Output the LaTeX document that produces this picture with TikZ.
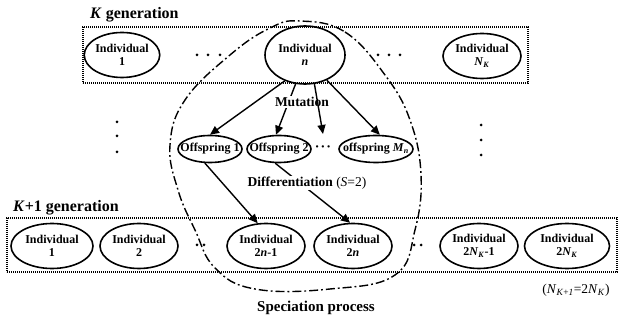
\documentclass[tikz,border=0pt]{standalone}
\usepackage{fontspec}
\setmainfont{Liberation Serif}
\usetikzlibrary{shapes.geometric,arrows.meta}
\begin{document}
\begin{tikzpicture}[x=1pt,y=-1pt,
  ind/.style={ellipse,draw,line width=1.6pt,inner sep=0pt,minimum width=78pt,minimum height=45pt,align=center,font=\fontsize{12}{13}\selectfont\bfseries},
  off/.style={ellipse,draw,line width=1.6pt,inner sep=0pt,minimum width=64pt,minimum height=27pt,font=\fontsize{12}{13}\selectfont\bfseries},
  genbox/.style={draw,line width=1.3pt,dash pattern=on 1.1pt off 0.9pt},
  arr/.style={line width=1.4pt,-{Triangle[length=9pt,width=8pt]}},
  lbl/.style={font=\fontsize{13.5}{15}\selectfont\bfseries,fill=white,inner sep=1pt},
  ttl/.style={font=\fontsize{16}{18}\selectfont\bfseries,anchor=west,inner sep=0pt},
  dot/.style={circle,fill,inner sep=0pt,minimum size=3pt},
  spec/.style={line width=1.4pt,dash pattern=on 9pt off 3pt on 1.8pt off 3pt}
]
\useasboundingbox (0,0) rectangle (619,320);

% generation boxes
\node[genbox,minimum width=445pt,minimum height=56pt,inner sep=0pt] (topbox) at (305.5,55) {};
\node[genbox,minimum width=610pt,minimum height=54pt,inner sep=0pt] (botbox) at (312,245) {};

% titles
\node[ttl] (tK) at (90,15) {\textit{K} generation};
\node[ttl] (tK1) at (13,208) {\textit{K}+1 generation};

% K generation
\node[ind,minimum width=66pt] (i1) at (122,55) {Individual\\1};
\node[ind,minimum width=80pt,minimum height=58pt] (in) at (305,55) {Individual\\\textit{n}};
\node[ind] (iNK) at (482,56) {Individual\\\textit{N}\textsubscript{\textit{K}}};

% offspring
\node[off] (o1) at (210,149) {\makebox[0pt]{Offspring 1}};
\node[off] (o2) at (279,149) {\makebox[0pt]{Offspring 2}};
\node[font=\fontsize{14}{15}\selectfont\bfseries,inner sep=0pt] (od) at (323,149) {·\kern1pt·\kern1pt·};
\coordinate (m3) at (323,134);
\node[off,minimum width=74pt] (oM) at (376,149) {\makebox[0pt]{offspring \textit{M}\textsubscript{\textit{n}}}};

% K+1 generation
\node[ind,minimum width=82pt] (b1) at (52,246) {Individual\\1};
\node[ind] (b2) at (139,246) {Individual\\2};
\node[ind] (b3) at (266,246) {Individual\\2\textit{n}-1};
\node[ind] (b4) at (353,246) {Individual\\2\textit{n}};
\node[ind] (b5) at (479,246) {Individual\\2\textit{N}\textsubscript{\textit{K}}-1};
\node[ind,minimum width=85pt] (b6) at (567,246) {Individual\\2\textit{N}\textsubscript{\textit{K}}};

% mutation arrows
\draw[arr] (in.232) -- (o1.north);
\draw[arr] (in.252) -- (o2.102);
\node[lbl] (mut) at (302,102) {Mutation};
\draw[arr] (in.288) -- (m3);
\draw[arr] (in.311) -- (oM.75);

% differentiation arrows
\draw[arr] (o1.250) -- (b3.110);
\draw[arr] (o2.255) -- (b4.97);
\node[lbl] (diff) at (307,183) {Differentiation \mdseries(\textit{S}=2)};

% dots
\foreach \x [count=\i] in {197,208,220} \node[dot] (dl\i) at (\x,55) {};
\foreach \x [count=\i] in {378,389,400} \node[dot] (dr\i) at (\x,55) {};
\foreach \y [count=\i] in {122,136,152} \node[dot] (vl\i) at (117,\y) {};
\foreach \y [count=\i] in {125,140,155} \node[dot] (vr\i) at (481,\y) {};
\foreach \x [count=\i] in {197,204} \node[dot] (bl\i) at (\x,245) {};
\foreach \x [count=\i] in {414,421} \node[dot] (br\i) at (\x,245) {};

% speciation boundary
\draw[spec] plot[smooth cycle,tension=0.7] coordinates {(300,21) (345,32) (385,75) (410,120) (421,175) (415,230) (395,275) (330,289) (255,289) (215,268) (195,230) (178,190) (170,145) (185,100) (230,55) (270,28)};

\node[font=\fontsize{15}{17}\selectfont\bfseries] (sp) at (316,308) {Speciation process};
\node[font=\fontsize{13.5}{15}\selectfont] (eq) at (576,290) {(\textit{N}\textsubscript{\textit{K}+\textit{1}}=2\textit{N}\textsubscript{\textit{K}})};
\end{tikzpicture}
\end{document}
